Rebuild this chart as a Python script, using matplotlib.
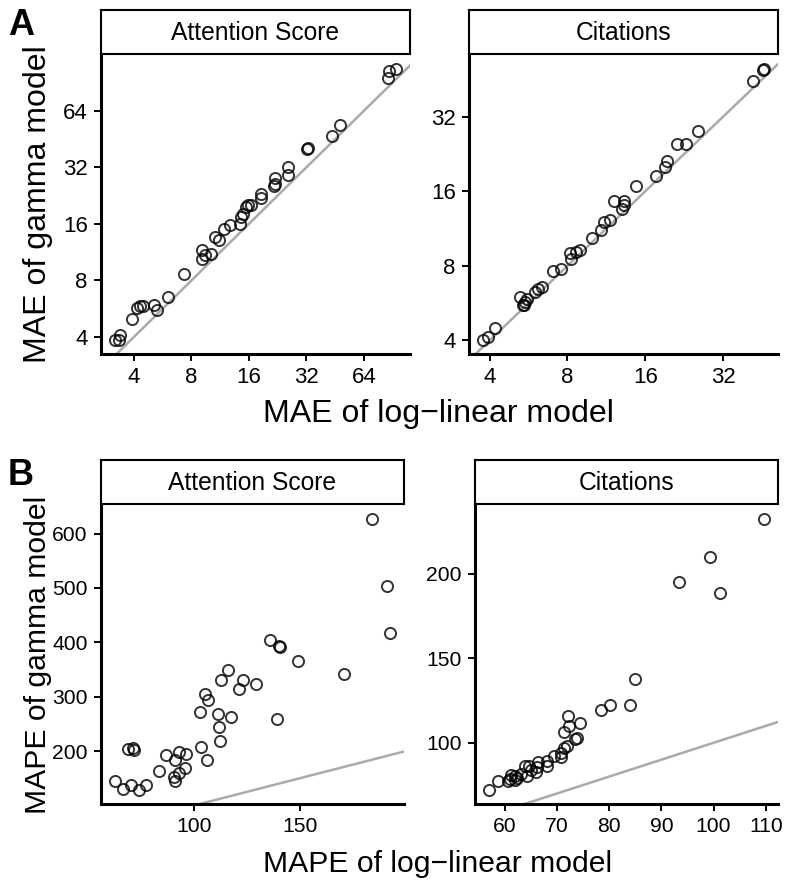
import numpy as np
import matplotlib
matplotlib.use("Agg")
import matplotlib.pyplot as plt
from matplotlib.ticker import NullLocator

plt.rcParams['font.family'] = ['Liberation Sans', 'DejaVu Sans']

# MAE, attention score
mae_att_loglin = [3.18, 3.38, 3.35, 3.89, 4.16, 4.30, 4.43, 5.09, 5.25, 6.04, 7.27, 9.13, 9.13,
                  9.42, 10.1, 10.6, 11.2, 11.8, 12.8, 14.3, 14.6, 14.9, 15.8, 16.4, 15.4, 18.5,
                  18.6, 21.8, 22.0, 21.6, 25.5, 25.5, 32.4, 32.8, 43.8, 47.9, 85.9, 86.5, 94.4]
mae_att_gamma = [3.84, 4.08, 3.83, 4.97, 5.71, 5.81, 5.86, 5.90, 5.59, 6.55, 8.66, 11.6, 10.45,
                 10.9, 11.0, 13.6, 13.2, 15.1, 15.7, 15.9, 17.4, 18.1, 20.1, 20.1, 19.7, 23.0,
                 22.1, 26.2, 28.0, 25.5, 32.2, 29.3, 40.2, 40.6, 47.2, 53.6, 96.4, 104.6, 107.6]

# MAE, citations
mae_cit_loglin = [3.77, 3.94, 4.18, 5.24, 5.40, 5.48, 5.56, 5.45, 5.98, 6.17, 6.36, 7.05, 7.54,
                  8.17, 8.23, 8.66, 8.92, 9.95, 10.8, 11.07, 11.7, 12.1, 13.0, 13.3, 13.2, 14.7,
                  17.6, 19.0, 19.4, 21.3, 23.1, 25.6, 41.8, 45.9, 46.1]
mae_cit_gamma = [4.00, 4.11, 4.49, 5.99, 5.54, 5.72, 5.86, 5.57, 6.28, 6.43, 6.57, 7.60, 7.79,
                 9.00, 8.56, 9.10, 9.24, 10.37, 11.13, 12.04, 12.2, 14.6, 13.6, 14.6, 14.1, 16.8,
                 18.4, 20.1, 21.3, 24.9, 24.9, 27.95, 44.5, 49.3, 50.1]

# MAPE, attention score
mape_att_loglin = [184.1, 191.2, 192.6, 135.8, 140.2, 140.3, 149.2, 170.8, 115.7, 112.6, 123.0,
                   120.9, 129.1, 105.2, 106.7, 102.8, 111.0, 117.3, 111.5, 112.3, 139.3, 103.2,
                   106.0, 68.5, 71.1, 71.7, 86.5, 92.9, 96.2, 91.0, 95.4, 92.6, 90.2, 91.0, 83.2,
                   62.4, 66.4, 70.3, 73.9, 77.0]
mape_att_gamma = [627.6, 503.7, 417.7, 403.6, 392.5, 392.0, 365.6, 341.0, 349.6, 330.0, 331.0,
                  314.7, 323.9, 304.2, 294.4, 271.8, 268.7, 261.9, 244.2, 217.7, 258.2, 207.4,
                  184.0, 204.2, 205.5, 201.1, 193.2, 198.1, 193.7, 182.7, 168.7, 159.5, 152.1,
                  144.0, 162.5, 144.8, 130.6, 136.7, 127.5, 136.7]

# MAPE, citations
mape_cit_loglin = [109.7, 99.3, 93.4, 101.3, 84.9, 83.9, 80.2, 78.5, 72.1, 74.3, 72.2, 71.4, 73.5,
                   73.8, 71.9, 71.4, 70.7, 69.4, 68.0, 66.3, 68.1, 66.1, 64.6, 63.8, 64.9, 64.2,
                   63.0, 62.4, 61.9, 61.2, 61.0, 60.6, 58.7, 56.9, 65.9, 70.8, 61.9]
mape_cit_gamma = [232.7, 209.9, 195.4, 188.5, 138.0, 122.3, 122.2, 119.4, 115.8, 111.9, 109.9,
                  106.3, 102.4, 103.0, 98.0, 97.0, 91.4, 92.0, 89.1, 88.5, 86.5, 85.5, 86.1, 86.1,
                  84.1, 80.2, 81.6, 79.2, 77.8, 81.2, 78.6, 77.2, 77.2, 71.8, 82.5, 94.1, 80.2]

W, H = 788, 882
fig = plt.figure(figsize=(W/100, H/100), dpi=100)

def box(l, t, r, b):
    return fig.add_axes([l/W, 1 - b/H, (r - l)/W, (b - t)/H])

def expand(v, log):
    # ggplot-like 5% expansion of the data range
    v = np.log2(v) if log else np.asarray(v, dtype=float)
    lo, hi = v.min(), v.max()
    pad = 0.05 * (hi - lo)
    lo, hi = lo - pad, hi + pad
    return (2**lo, 2**hi) if log else (lo, hi)

def panel(pos, strip_top, title, x, y, xt, yt, log, tsize):
    l, t, r, b = pos
    ax = box(l, t, r, b)
    if log:
        ax.set_xscale('log', base=2)
        ax.set_yscale('log', base=2)
    ax.axline((1, 1), (2, 2), color='#aaaaaa', lw=1.8, zorder=1)
    ax.plot(x, y, 'o', mfc='none', mec='black', mew=1.4, ms=8, alpha=0.8, zorder=2)
    ax.set_xlim(*expand(x, log))
    ax.set_ylim(*expand(y, log))
    ax.set_xticks(xt)
    ax.set_xticklabels([str(v) for v in xt])
    ax.set_yticks(yt)
    ax.set_yticklabels([str(v) for v in yt])
    ax.xaxis.set_minor_locator(NullLocator())
    ax.yaxis.set_minor_locator(NullLocator())
    ax.tick_params(axis='both', labelsize=tsize, length=5, width=1.4, pad=4.5, colors='black')
    for s in ['top', 'right']:
        ax.spines[s].set_visible(False)
    for s in ['left', 'bottom']:
        ax.spines[s].set_linewidth(2.2)

    # facet strip
    st = box(l, strip_top, r, t - 1)
    st.set_xticks([])
    st.set_yticks([])
    for s in st.spines.values():
        s.set_linewidth(1.5)
    st.text(0.5, 0.48, title, ha='center', va='center', fontsize=17.7, transform=st.transAxes)
    return ax

panel((101, 55, 410, 354), 10, 'Attention Score', mae_att_loglin, mae_att_gamma,
      [4, 8, 16, 32, 64], [4, 8, 16, 32, 64], True, 16)
panel((469, 55, 778, 354), 10, 'Citations', mae_cit_loglin, mae_cit_gamma,
      [4, 8, 16, 32], [4, 8, 16, 32], True, 16)
panel((101, 505, 404, 804), 460, 'Attention Score', mape_att_loglin, mape_att_gamma,
      [100, 150], [200, 300, 400, 500, 600], False, 15.2)
panel((475, 505, 778, 804), 460, 'Citations', mape_cit_loglin, mape_cit_gamma,
      [60, 70, 80, 90, 100, 110], [100, 150, 200], False, 15.2)

# shared axis titles
fig.text(438.5/W, 1 - 422/H, 'MAE of log\u2212linear model', ha='center', va='baseline', fontsize=23.1)
fig.text(438/W, 1 - 872/H, 'MAPE of log\u2212linear model', ha='center', va='baseline', fontsize=21.7)
fig.text(46/W, 1 - 204.5/H, 'MAE of gamma model', ha='center', va='baseline', rotation=90,
         rotation_mode='anchor', fontsize=23.1)
fig.text(46/W, 1 - 654.5/H, 'MAPE of gamma model', ha='center', va='baseline', rotation=90,
         rotation_mode='anchor', fontsize=21.7)

# panel letters
fig.text(8/W, 1 - 8/H, 'A', ha='left', va='top', fontsize=26, fontweight='bold')
fig.text(8/W, 1 - 458/H, 'B', ha='left', va='top', fontsize=26, fontweight='bold')

fig.savefig('out.png', dpi=100)
